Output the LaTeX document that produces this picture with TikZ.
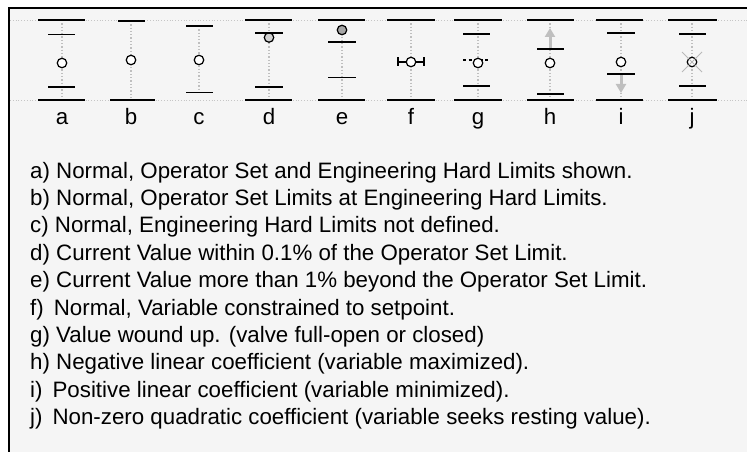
\documentclass[tikz,border=0pt]{standalone}
\usepackage{fontspec}
\setmainfont{Liberation Sans}
\usetikzlibrary{arrows.meta}
\begin{document}
\begin{tikzpicture}[x=1pt,y=-1pt,
  hard/.style={line width=1.7pt,black},
  opbar/.style={line width=1.5pt,black},
  stem/.style={line width=1.3pt,gray!50,dotted},
  guide/.style={line width=0.8pt,gray!45,dotted},
  val/.style={circle,draw=black,line width=1.2pt,fill=white,minimum size=9.5pt,inner sep=0pt},
  tag/.style={font=\fontsize{22.3}{22.3}\selectfont,anchor=base,inner sep=0pt},
  legend/.style={font=\fontsize{22.3}{22.3}\selectfont,anchor=base west,inner sep=0pt},
  push/.style={gray!50,line width=3pt,-{Triangle[length=9pt,width=10pt]}}
]
\useasboundingbox (0,0) rectangle (747,452);
% panel and its frame
\fill[black!4] (9,8) rectangle (747,452);
\draw[line width=2pt] (9,452) -- (9,8) -- (747,8);

% faint guides at the engineering hard limit levels
\draw[guide] (10,20) -- (747,20);
\draw[guide] (10,100) -- (747,100);

% ---- a: operator set and engineering hard limits
\draw[stem] (62,20) -- (62,100);
\draw[hard] (38,20) -- (85,20);  \draw[hard] (38,100) -- (85,100);
\draw[opbar] (48,34.5) -- (75,34.5); \draw[opbar] (48,87) -- (75,87);
\node[val] (va) at (62,63) {};

% ---- b: operator set limits at the hard limits
\draw[stem] (131,21) -- (131,100);
\draw[hard] (118,21) -- (145,21); \draw[hard] (110,100) -- (155,100);
\node[val] (vb) at (131,60) {};

% ---- c: no engineering hard limits
\draw[stem] (199,26) -- (199,92.5);
\draw[opbar] (186,26) -- (213,26); \draw[opbar] (186,92.5) -- (213,92.5);
\node[val] (vc) at (199,60) {};

% ---- d: value close to the operator limit
\draw[stem] (269,20) -- (269,100);
\draw[hard] (245,20) -- (292,20); \draw[hard] (245,100) -- (292,100);
\node[val,fill=gray!35] (vd) at (269,37.5) {};
\draw[opbar] (255,33) -- (283,33); \draw[opbar] (255,87) -- (283,87);

% ---- e: value beyond the operator limit
\draw[stem] (342,30) -- (342,100);
\draw[hard] (318,20) -- (365,20); \draw[hard] (318,100) -- (365,100);
\draw[opbar] (328,42) -- (356,42); \draw[opbar] (328,77.5) -- (356,77.5);
\node[val,fill=gray!70] (ve) at (342,30) {};

% ---- f: constrained to setpoint
\draw[stem] (411,20) -- (411,100);
\draw[hard] (387,20) -- (435,20); \draw[hard] (387,100) -- (435,100);
\draw[opbar] (398,62) -- (424,62);
\draw[opbar] (398,57.5) -- (398,66.5); \draw[opbar] (424,57.5) -- (424,66.5);
\node[val] (vf) at (411,62) {};

% ---- g: wound up
\draw[stem] (478,20) -- (478,100);
\draw[hard] (454,20) -- (502,20); \draw[hard] (454,100) -- (502,100);
\draw[opbar] (463,34) -- (490,34); \draw[opbar] (463,86) -- (490,86);
\draw[line width=1.2pt,dash pattern=on 3pt off 2.5pt] (463,60) -- (490,60);
\node[val] (vg) at (478,63) {};

% ---- h: negative linear coefficient
\draw[stem] (550,20) -- (550,100);
\draw[hard] (527,20) -- (574,20); \draw[hard] (527,100) -- (574,100);
\coordinate (hs) at (550,49); \coordinate (he) at (550,28);
\draw[push] (hs) -- (he);
\draw[opbar] (537,49) -- (564,49); \draw[opbar] (537,94) -- (564,94);
\node[val] (vh) at (550,63) {};

% ---- i: positive linear coefficient
\draw[stem] (621,20) -- (621,100);
\draw[hard] (596,20) -- (643,20); \draw[hard] (596,100) -- (643,100);
\coordinate (is) at (621,74); \coordinate (ie) at (621,93);
\draw[push] (is) -- (ie);
\draw[opbar] (607,33) -- (635,33); \draw[opbar] (607,74) -- (635,74);
\node[val] (vi) at (621,62) {};

% ---- j: quadratic coefficient
\draw[stem] (692,20) -- (692,100);
\draw[hard] (668,20) -- (717,20); \draw[hard] (668,100) -- (717,100);
\draw[opbar] (679,34) -- (706,34); \draw[opbar] (679,86) -- (706,86);
\node[val] (vj) at (692,62) {};
\draw[gray!55,line width=0.8pt] (682,52) -- (702,72);
\draw[gray!55,line width=0.8pt] (682,72) -- (702,52);

% column letters
\foreach \n/\x in {a/62,b/131,c/199,d/269,e/342,f/411,g/478,h/550,i/621,j/692}
  \node[tag] (t\n) at (\x,124) {\n};

% legend
\node[legend] (la) at (30,178) {a) Normal, Operator Set and Engineering Hard Limits shown.};
\node[legend] (lb) at (30,205.4) {b) Normal, Operator Set Limits at Engineering Hard Limits.};
\node[legend] (lc) at (30,232.8) {c) Normal, Engineering Hard Limits not defined.};
\node[legend] (ld) at (30,260.2) {d) Current Value within 0.1\% of the Operator Set Limit.};
\node[legend] (le) at (30,287.6) {e) Current Value more than 1\% beyond the Operator Set Limit.};
\node[legend] (lf) at (30,315) {f)\hspace{0.45em}Normal, Variable constrained to setpoint.};
\node[legend] (lg) at (30,342.4) {g) Value wound up. (valve full-open or closed)};
\node[legend] (lh) at (30,369.8) {h) Negative linear coefficient (variable maximized).};
\node[legend] (li) at (30,397.2) {i)\hspace{0.45em}Positive linear coefficient (variable minimized).};
\node[legend] (lj) at (30,424.6) {j)\hspace{0.45em}Non-zero quadratic coefficient (variable seeks resting value).};
\end{tikzpicture}
\end{document}
